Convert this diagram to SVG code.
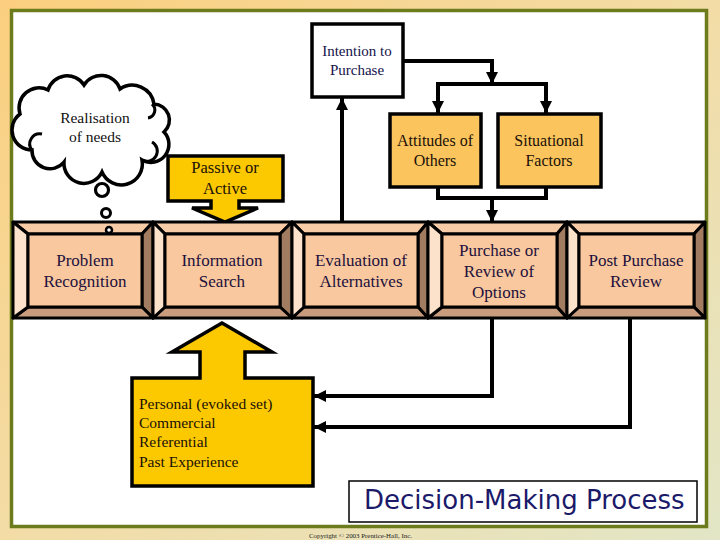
<svg xmlns="http://www.w3.org/2000/svg" width="720" height="540" viewBox="0 0 720 540">
<defs>
<linearGradient id="bg" x1="0" y1="0" x2="1" y2="1">
<stop offset="0" stop-color="#fbcf7e"/>
<stop offset="0.5" stop-color="#f3dca6"/>
<stop offset="1" stop-color="#e2e6c6"/>
</linearGradient>
<marker id="ah" viewBox="0 0 10 10" refX="10" refY="5" markerUnits="userSpaceOnUse" markerWidth="12" markerHeight="12" orient="auto-start-reverse">
<path d="M0,0 L10,5 L0,10 z" fill="#000"/>
</marker>
<style>
.ln{fill:none;stroke:#000;stroke-width:4}
.bv{stroke:#000;stroke-width:3;stroke-linejoin:round}
.tp{fill:#f6cba6}
.lf{fill:#fce2cb}
.rt{fill:#a27c60}
.bt{fill:#c99c7e}
.fc{fill:#f9c89e}
.bx{stroke:#000;stroke-width:3.5}
.t{font-family:"Liberation Serif","DejaVu Serif",serif;text-anchor:middle}
.bt17{font-size:17px;fill:#22103c}
</style>
</defs>
<rect width="720" height="540" fill="url(#bg)"/>
<rect x="11.5" y="10.5" width="695" height="516" fill="#fff" stroke="#6c7b1c" stroke-width="3.5"/>

<g id="cloud">
<path d="M20 114 A20 20 0 0 1 48 90 A20 20 0 0 1 84 85 A20 20 0 0 1 120 89 A22 22 0 0 1 154 104 A16 16 0 0 1 164 132 A18 18 0 0 1 142 160 A21 21 0 0 1 102 172 A20 20 0 0 1 64 162 A18 18 0 0 1 32 150 A20 20 0 0 1 20 114 Z" fill="#fff" stroke="#000" stroke-width="3.5"/>
<path d="M32 150 A10 10 0 0 1 42 134 M152 104 A8 8 0 0 1 148 118 M142 160 A9 9 0 0 0 152 142" fill="none" stroke="#000" stroke-width="3"/>
<text class="t" x="95" y="123" font-size="15.5" fill="#111">Realisation</text>
<text class="t" x="95" y="142" font-size="15.5" fill="#111">of needs</text>
<circle cx="102" cy="190" r="6.5" fill="#fff" stroke="#000" stroke-width="3.2"/>
<circle cx="106" cy="213" r="4.5" fill="#fff" stroke="#000" stroke-width="3"/>
</g>

<g id="intention">
<rect x="312" y="24" width="91" height="73" fill="#fff" class="bx"/>
<text class="t" x="357" y="56" font-size="15" fill="#14124a">Intention to</text>
<text class="t" x="357" y="75" font-size="15" fill="#14124a">Purchase</text>
</g>

<g id="attitudes">
<rect x="390" y="114" width="91" height="73" fill="#fbc45c" class="bx"/>
<text class="t" x="435" y="146" font-size="16" fill="#201008">Attitudes of</text>
<text class="t" x="435" y="166" font-size="16" fill="#201008">Others</text>
</g>

<g id="situational">
<rect x="498" y="114" width="103" height="73" fill="#fbc45c" class="bx"/>
<text class="t" x="549" y="146" font-size="16" fill="#201008">Situational</text>
<text class="t" x="549" y="166" font-size="16" fill="#201008">Factors</text>
</g>

<g id="passive">
<path d="M168 156 H283 V201 H239 V208 H258 L225 222 L192 208 H211 V201 H168 Z" fill="#fcc800" stroke="#000" stroke-width="3.5" stroke-linejoin="miter"/>
<text class="t" x="225" y="173" font-size="16.5" fill="#201008">Passive or</text>
<text class="t" x="225" y="194" font-size="16.5" fill="#201008">Active</text>
</g>

<g id="sources">
<path d="M132 378 H200 V352 H172 L222 323 L272 352 H245 V378 H313 V486 H132 Z" fill="#fcc800" stroke="#000" stroke-width="3.5"/>
<g font-family="Liberation Serif,DejaVu Serif,serif" font-size="15.5" fill="#201008">
<text x="139" y="409">Personal (evoked set)</text>
<text x="139" y="428">Commercial</text>
<text x="139" y="447">Referential</text>
<text x="139" y="467">Past Experience</text>
</g>
</g>

<g id="problem">
<polygon class="bv tp" points="13,222 153,222 142,234 28,234"/>
<polygon class="bv rt" points="153,222 153,318 142,307 142,234"/>
<polygon class="bv bt" points="13,318 153,318 142,307 28,307"/>
<polygon class="bv lf" points="13,222 28,234 28,307 13,318"/>
<rect class="bv fc" x="28" y="234" width="114" height="73"/>
<text class="t bt17" x="85" y="266">Problem</text>
<text class="t bt17" x="85" y="287">Recognition</text>
</g>

<g id="search">
<polygon class="bv tp" points="153,222 292,222 280,234 165,234"/>
<polygon class="bv rt" points="292,222 292,318 280,307 280,234"/>
<polygon class="bv bt" points="153,318 292,318 280,307 165,307"/>
<polygon class="bv lf" points="153,222 165,234 165,307 153,318"/>
<rect class="bv fc" x="165" y="234" width="115" height="73"/>
<text class="t bt17" x="222" y="266">Information</text>
<text class="t bt17" x="222" y="287">Search</text>
</g>

<g id="evaluation">
<polygon class="bv tp" points="292,222 428,222 418,234 304,234"/>
<polygon class="bv rt" points="428,222 428,318 418,307 418,234"/>
<polygon class="bv bt" points="292,318 428,318 418,307 304,307"/>
<polygon class="bv lf" points="292,222 304,234 304,307 292,318"/>
<rect class="bv fc" x="304" y="234" width="114" height="73"/>
<text class="t bt17" x="361" y="266">Evaluation of</text>
<text class="t bt17" x="361" y="287">Alternatives</text>
</g>

<g id="purchase">
<polygon class="bv tp" points="428,222 567,222 557,234 442,234"/>
<polygon class="bv rt" points="567,222 567,318 557,307 557,234"/>
<polygon class="bv bt" points="428,318 567,318 557,307 442,307"/>
<polygon class="bv lf" points="428,222 442,234 442,307 428,318"/>
<rect class="bv fc" x="442" y="234" width="115" height="73"/>
<text class="t bt17" x="499" y="256">Purchase or</text>
<text class="t bt17" x="499" y="277">Review of</text>
<text class="t bt17" x="499" y="298">Options</text>
</g>

<g id="post">
<polygon class="bv tp" points="567,222 705,222 694,234 579,234"/>
<polygon class="bv rt" points="705,222 705,318 694,307 694,234"/>
<polygon class="bv bt" points="567,318 705,318 694,307 579,307"/>
<polygon class="bv lf" points="567,222 579,234 579,307 567,318"/>
<rect class="bv fc" x="579" y="234" width="115" height="73"/>
<text class="t bt17" x="636" y="266">Post Purchase</text>
<text class="t bt17" x="636" y="287">Review</text>
</g>

<circle cx="109" cy="230" r="3" fill="#fff" stroke="#000" stroke-width="2.5"/>

<g id="connectors">
<path class="ln" d="M403 61 H492 V84" marker-end="url(#ah)"/>
<path class="ln" d="M438 113 V84 H546 V113" marker-start="url(#ah)" marker-end="url(#ah)"/>
<path class="ln" d="M438 187 V198 H546 V187"/>
<path class="ln" d="M492 198 V222" marker-end="url(#ah)"/>
<path class="ln" d="M342 222 V98" marker-end="url(#ah)"/>
<path class="ln" d="M492 318 V396 H314" marker-end="url(#ah)"/>
<path class="ln" d="M630 318 V427 H314" marker-end="url(#ah)"/>
</g>

<g id="title">
<rect x="349" y="481" width="348" height="41" fill="#fff" stroke="#000" stroke-width="1.5"/>
<text x="364" y="509" font-family="DejaVu Sans,sans-serif" font-size="26" fill="#1b1a6a">Decision-Making Process</text>
</g>
<text x="309" y="538" font-family="Liberation Serif,serif" font-size="6.5" fill="#222" textLength="103" lengthAdjust="spacingAndGlyphs">Copyright © 2003 Prentice-Hall, Inc.</text>
</svg>
